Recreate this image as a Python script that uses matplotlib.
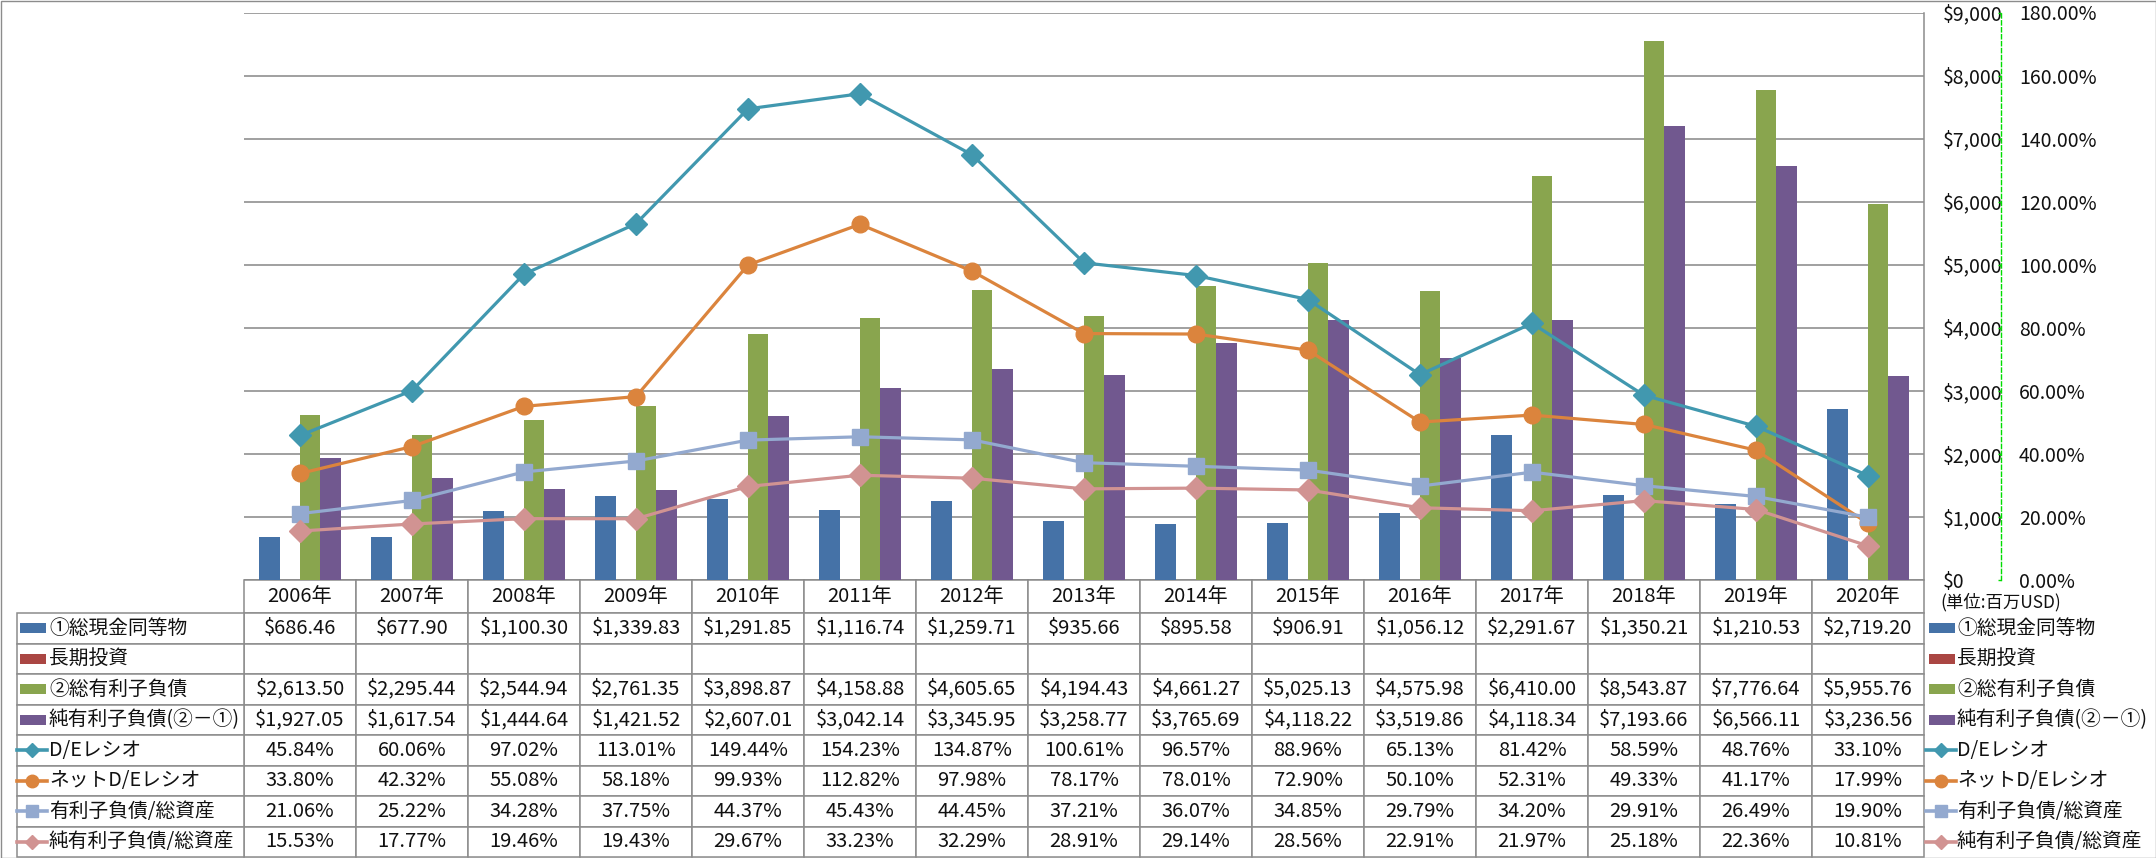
import numpy as np
import matplotlib
matplotlib.use("Agg")
import matplotlib.pyplot as plt
from matplotlib.lines import Line2D
from matplotlib.patches import Rectangle
from matplotlib.transforms import Affine2D
from matplotlib.ticker import FuncFormatter

plt.rcParams['font.family'] = ['Noto Sans CJK JP', 'DejaVu Sans']

# --- Data (百万USD / %) ---
years = ['2006年', '2007年', '2008年', '2009年', '2010年', '2011年', '2012年', '2013年',
         '2014年', '2015年', '2016年', '2017年', '2018年', '2019年', '2020年']
cash = [686.46, 677.90, 1100.30, 1339.83, 1291.85, 1116.74, 1259.71, 935.66,
        895.58, 906.91, 1056.12, 2291.67, 1350.21, 1210.53, 2719.20]
long_term = [np.nan] * 15  # empty in the source
debt = [2613.50, 2295.44, 2544.94, 2761.35, 3898.87, 4158.88, 4605.65, 4194.43,
        4661.27, 5025.13, 4575.98, 6410.00, 8543.87, 7776.64, 5955.76]
net_debt = [1927.05, 1617.54, 1444.64, 1421.52, 2607.01, 3042.14, 3345.95, 3258.77,
            3765.69, 4118.22, 3519.86, 4118.34, 7193.66, 6566.11, 3236.56]
de_ratio = [45.84, 60.06, 97.02, 113.01, 149.44, 154.23, 134.87, 100.61,
            96.57, 88.96, 65.13, 81.42, 58.59, 48.76, 33.10]
net_de_ratio = [33.80, 42.32, 55.08, 58.18, 99.93, 112.82, 97.98, 78.17,
                78.01, 72.90, 50.10, 52.31, 49.33, 41.17, 17.99]
debt_to_assets = [21.06, 25.22, 34.28, 37.75, 44.37, 45.43, 44.45, 37.21,
                  36.07, 34.85, 29.79, 34.20, 29.91, 26.49, 19.90]
net_debt_to_assets = [15.53, 17.77, 19.46, 19.43, 29.67, 33.23, 32.29, 28.91,
                      29.14, 28.56, 22.91, 21.97, 25.18, 22.36, 10.81]

bar_names = ['①総現金同等物', '長期投資', '②総有利子負債', '純有利子負債(②－①)']
line_names = ['D/Eレシオ', 'ネットD/Eレシオ', '有利子負債/総資産', '純有利子負債/総資産']

bar_series = [cash, long_term, debt, net_debt]
line_series = [de_ratio, net_de_ratio, debt_to_assets, net_debt_to_assets]
bar_colors = ['#4572A7', '#AA4643', '#89A54E', '#71588F']
line_colors = ['#4198AF', '#DB843D', '#93A9CF', '#D19392']
line_markers = ['D', 'o', 's', 'D']
marker_sizes = [11.5, 12.0, 11.5, 11.5]
key_sizes = [7.5, 9.0, 8.5, 7.5]

# --- Layout (pixels of the 2156x858 canvas) ---
W, H = 2156, 858
PL, PR, PT, PB = 244, 1924, 12.5, 580
ROW0, ROWH = 613, 30.5
TB = 857
GRID = '#8C8C8C'
TXT = '#111111'
LBL_FS = 14.2

fig = plt.figure(figsize=(W / 100, H / 100), dpi=100)
px = Affine2D().scale(1 / W, -1 / H).translate(0, 1) + fig.transFigure

ax = fig.add_axes([PL / W, 1 - PB / H, (PR - PL) / W, (PB - PT) / H])
ax2 = ax.twinx()  # secondary axis for ratios

n = len(years)
x = np.arange(n)
bw = 1 / 5.5
for i, (vals, c) in enumerate(zip(bar_series, bar_colors)):
    ax.bar(x + (i - 1.5) * bw, vals, width=bw, color=c, linewidth=0, zorder=2)

ax.set_xlim(-0.5, n - 0.5)
ax.set_ylim(0, 9000)
ax.set_yticks(np.arange(0, 9001, 1000))
ax.set_xticks([])
ax.yaxis.grid(True, color='#868686', linewidth=1.1)
ax.set_axisbelow(True)
for s in ['left', 'top', 'bottom']:
    ax.spines[s].set_visible(False)
ax.spines['right'].set_visible(True)
ax.spines['right'].set_color(GRID)
ax.spines['right'].set_linewidth(1.1)
ax.yaxis.tick_right()
ax.tick_params(axis='y', which='both', left=False, right=False, labelleft=False,
               labelright=True, length=0, pad=(1943 - PR) * 0.72, labelsize=14,
               labelcolor=TXT)
ax.yaxis.set_major_formatter(FuncFormatter(lambda v, _: f'${v:,.0f}'))

ax2.set_ylim(0, 180)
ax2.set_yticks(np.arange(0, 181, 20))
ax2.yaxis.set_major_formatter(FuncFormatter(lambda v, _: f'{v:.2f}%'))
for s in ['left', 'top', 'bottom']:
    ax2.spines[s].set_visible(False)
ax2.spines['right'].set_position(('axes', (2000.5 - PL) / (PR - PL)))
ax2.spines['right'].set_color('#00DD00')
ax2.spines['right'].set_linestyle((0, (3, 2)))
ax2.spines['right'].set_linewidth(1.0)
ax2.tick_params(axis='y', direction='in', length=2.5, color='#00DD00', width=1.0,
                pad=(2019 - 2000.5) * 0.72, labelsize=14, labelcolor=TXT)
for vals, c, m, ms in zip(line_series, line_colors, line_markers, marker_sizes):
    ax2.plot(x, vals, color=c, linewidth=2.3, marker=m, markersize=ms,
             markerfacecolor=c, markeredgecolor=c, zorder=3)

# --- data table under the plot ---
cell_text = [[f'${v:,.2f}' for v in cash],
             ['' for _ in long_term],
             [f'${v:,.2f}' for v in debt],
             [f'${v:,.2f}' for v in net_debt],
             [f'{v:.2f}%' for v in de_ratio],
             [f'{v:.2f}%' for v in net_de_ratio],
             [f'{v:.2f}%' for v in debt_to_assets],
             [f'{v:.2f}%' for v in net_debt_to_assets]]
ah = PB - PT
tbl = ax.table(cellText=cell_text, colLabels=years, cellLoc='center', colLoc='center',
               bbox=[0, -(TB - PB) / ah, 1, (TB - PB) / ah])
tbl.auto_set_font_size(False)
tbl.set_fontsize(14.5)
for (r, c), cell in tbl.get_celld().items():
    cell.set_edgecolor(GRID)
    cell.set_linewidth(1.1)
    cell.get_text().set_color(TXT)
    if r == 0:
        cell.set_height(cell.get_height() * (ROW0 - PB) / ROWH)

all_names = bar_names + line_names
lbl = ax.table(cellText=[[nm] for nm in all_names], cellLoc='left',
               bbox=[(16.5 - PL) / (PR - PL), -(TB - PB) / ah,
                     (PL - 16.5) / (PR - PL), (TB - ROW0) / ah])
lbl.auto_set_font_size(False)
lbl.set_fontsize(LBL_FS)
for (r, c), cell in lbl.get_celld().items():
    cell.set_edgecolor(GRID)
    cell.set_linewidth(1.1)
    cell.PAD = 32.5 / (PL - 16.5)
    cell.get_text().set_color(TXT)


# legend keys (left of table rows and in the right-hand legend)
def draw_key(x0, yc, k):
    if k < 4:
        fig.add_artist(Rectangle((x0 + 3, yc - 5), 26, 10, transform=px,
                                 facecolor=bar_colors[k], edgecolor='none'))
    else:
        j = k - 4
        fig.add_artist(Line2D([x0, x0 + 30], [yc, yc], transform=px,
                              color=line_colors[j], linewidth=2.6))
        fig.add_artist(Line2D([x0 + 15], [yc], transform=px, marker=line_markers[j],
                              markersize=key_sizes[j], color=line_colors[j],
                              markeredgecolor=line_colors[j], linestyle='none'))


for k, nm in enumerate(all_names):
    yc = ROW0 + ROWH * (k + 0.5)
    draw_key(17, yc, k)
    draw_key(1926, yc, k)
    fig.text(1957 / W, 1 - yc / H, nm, ha='left', va='center', fontsize=LBL_FS, color=TXT)

fig.text(1940 / W, 1 - 602 / H, '(単位:百万USD)', ha='left', va='center',
         fontsize=12.5, color=TXT)

# outer chart border
fig.add_artist(Rectangle((0.5, 0.5), W - 1, H - 1, transform=px, fill=False,
                         edgecolor=GRID, linewidth=1.0))

fig.savefig('out.png', dpi=100)
